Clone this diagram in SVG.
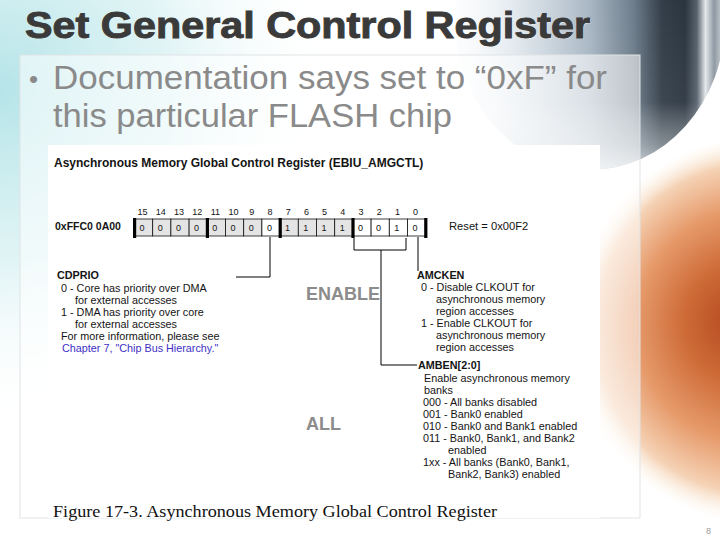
<svg xmlns="http://www.w3.org/2000/svg" width="720" height="540" viewBox="0 0 720 540">
<defs>
<radialGradient id="cyan" cx="0" cy="90" r="340" gradientUnits="userSpaceOnUse">
<stop offset="0" stop-color="#b5e4e8" stop-opacity="1"/>
<stop offset="0.5" stop-color="#d3eff1" stop-opacity="0.7"/>
<stop offset="1" stop-color="#ffffff" stop-opacity="0"/>
</radialGradient>
<linearGradient id="orbH" x1="430" y1="0" x2="720" y2="0" gradientUnits="userSpaceOnUse">
<stop offset="0" stop-color="#ffffff" stop-opacity="0"/>
<stop offset="0.3" stop-color="#d9e2e9" stop-opacity="0.8"/>
<stop offset="0.55" stop-color="#a9b7c4"/>
<stop offset="0.7" stop-color="#6f7e8c"/>
<stop offset="0.8" stop-color="#333e49"/>
<stop offset="0.88" stop-color="#2b3540"/>
<stop offset="0.92" stop-color="#56616c"/>
<stop offset="0.95" stop-color="#e3e7eb"/>
<stop offset="0.98" stop-color="#8d97a1"/>
<stop offset="1" stop-color="#b7bec5"/>
</linearGradient>
<linearGradient id="orbV" x1="0" y1="0" x2="0" y2="170" gradientUnits="userSpaceOnUse">
<stop offset="0" stop-color="#ffffff" stop-opacity="0"/>
<stop offset="0.6" stop-color="#ffffff" stop-opacity="0.05"/>
<stop offset="0.85" stop-color="#e8ecef" stop-opacity="0.45"/>
<stop offset="1" stop-color="#f4f6f7" stop-opacity="0.75"/>
</linearGradient>
<radialGradient id="orange" cx="765" cy="330" r="195" fx="735" fy="320" gradientUnits="userSpaceOnUse">
<stop offset="0" stop-color="#b44820"/>
<stop offset="0.3" stop-color="#cd6a36"/>
<stop offset="0.6" stop-color="#e69a6a"/>
<stop offset="0.85" stop-color="#f5d2b5"/>
<stop offset="1" stop-color="#fbf3e3" stop-opacity="0"/>
</radialGradient>
<style>
.t{font-family:"Liberation Sans",Arial,sans-serif;font-size:10.8px;fill:#141414}
.b{font-weight:bold}
.n{font-family:"Liberation Sans",Arial,sans-serif;font-size:9px;fill:#141414;text-anchor:middle}
.g{fill:#e4e4e4;stroke:#111;stroke-width:0.8}
.w{fill:#ffffff;stroke:#111;stroke-width:0.8}
.bar{fill:#000}
.big{font-family:"Liberation Sans",Arial,sans-serif;font-weight:bold;font-size:18px;fill:#8c8c8c}
.c{fill:none;stroke:#000;stroke-width:1}
</style>
</defs>
<g id="background">
<rect width="720" height="540" fill="#ffffff"/>
<rect width="720" height="540" fill="url(#cyan)"/>
<ellipse cx="590" cy="20" rx="135" ry="150" fill="url(#orbH)"/>
<ellipse cx="590" cy="20" rx="135" ry="150" fill="url(#orbV)"/>
<circle cx="765" cy="330" r="195" fill="url(#orange)"/>
<rect x="20" y="55" width="620" height="463" fill="#ffffff" fill-opacity="0.55" stroke="#dfe3e6" stroke-width="1"/>
<rect x="48" y="145" width="552" height="373" fill="#ffffff"/>
</g>
<g id="title">
<text x="26" y="39" font-family="'Liberation Sans',Arial,sans-serif" font-weight="bold" font-size="36" fill="#ffffff" opacity="0.5" textLength="565" lengthAdjust="spacingAndGlyphs">Set General Control Register</text>
<text x="25" y="38" font-family="'Liberation Sans',Arial,sans-serif" font-weight="bold" font-size="36" fill="#3a3a3a" stroke="#3a3a3a" stroke-width="0.9" textLength="565" lengthAdjust="spacingAndGlyphs">Set General Control Register</text>
</g>
<g id="bullet" font-family="'Liberation Sans',Arial,sans-serif" font-size="34" fill="#8a8a8a">
<text x="29" y="88" font-size="26">•</text>
<text x="53" y="89" textLength="554" lengthAdjust="spacingAndGlyphs">Documentation says set to “0xF” for</text>
<text x="53" y="127" textLength="399" lengthAdjust="spacingAndGlyphs">this particular FLASH chip</text>
</g>
<g id="register-header">
<text class="t b" x="54" y="167" style="font-size:12px">Asynchronous Memory Global Control Register (EBIU_AMGCTL)</text>
<text class="t b" x="55" y="230" style="font-size:10.5px">0xFFC0 0A00</text>
<text class="t" x="449" y="230" style="font-size:11.2px">Reset = 0x00F2</text>
</g>
<g id="register">
<rect class="g" x="134.5" y="219" width="18.2" height="17"/>
<rect class="g" x="152.7" y="219" width="18.2" height="17"/>
<rect class="g" x="170.9" y="219" width="18.2" height="17"/>
<rect class="g" x="189.1" y="219" width="18.2" height="17"/>
<rect class="g" x="207.3" y="219" width="18.2" height="17"/>
<rect class="g" x="225.5" y="219" width="18.2" height="17"/>
<rect class="g" x="243.7" y="219" width="18.2" height="17"/>
<rect class="w" x="261.9" y="219" width="18.2" height="17"/>
<rect class="g" x="280.1" y="219" width="18.2" height="17"/>
<rect class="g" x="298.3" y="219" width="18.2" height="17"/>
<rect class="g" x="316.5" y="219" width="18.2" height="17"/>
<rect class="g" x="334.7" y="219" width="18.2" height="17"/>
<rect class="w" x="352.9" y="219" width="18.2" height="17"/>
<rect class="w" x="371.1" y="219" width="18.2" height="17"/>
<rect class="w" x="389.3" y="219" width="18.2" height="17"/>
<rect class="w" x="407.5" y="219" width="18.2" height="17"/>
<rect class="bar" x="133" y="218" width="3.2" height="20"/>
<rect class="bar" x="205.8" y="218" width="3.2" height="20"/>
<rect class="bar" x="278.6" y="218" width="3.2" height="20"/>
<rect class="bar" x="351.4" y="218" width="3.2" height="20"/>
<rect class="bar" x="424.2" y="218" width="3.2" height="20"/>
<text class="n" x="142.6" y="215">15</text>
<text class="n" x="160.8" y="215">14</text>
<text class="n" x="179" y="215">13</text>
<text class="n" x="197.2" y="215">12</text>
<text class="n" x="215.4" y="215">11</text>
<text class="n" x="233.6" y="215">10</text>
<text class="n" x="251.8" y="215">9</text>
<text class="n" x="270" y="215">8</text>
<text class="n" x="288.2" y="215">7</text>
<text class="n" x="306.4" y="215">6</text>
<text class="n" x="324.6" y="215">5</text>
<text class="n" x="342.8" y="215">4</text>
<text class="n" x="361" y="215">3</text>
<text class="n" x="379.2" y="215">2</text>
<text class="n" x="397.4" y="215">1</text>
<text class="n" x="415.6" y="215">0</text>
<text class="n" x="142" y="231">0</text>
<text class="n" x="160.2" y="231">0</text>
<text class="n" x="178.4" y="231">0</text>
<text class="n" x="196.6" y="231">0</text>
<text class="n" x="214.8" y="231">0</text>
<text class="n" x="233" y="231">0</text>
<text class="n" x="251.2" y="231">0</text>
<text class="n" x="269.4" y="231">0</text>
<text class="n" x="287.6" y="231">1</text>
<text class="n" x="305.8" y="231">1</text>
<text class="n" x="324" y="231">1</text>
<text class="n" x="342.2" y="231">1</text>
<text class="n" x="360.4" y="231">0</text>
<text class="n" x="378.6" y="231">0</text>
<text class="n" x="396.8" y="231">1</text>
<text class="n" x="415" y="231">0</text>
</g>
<g id="connectors">
<path class="c" d="M270,237 V277 H236"/>
<path class="c" d="M354,238 V250 H406 V238"/>
<path class="c" d="M381,250 V365 H417"/>
<path class="c" d="M418,237 V271"/>
</g>
<g id="cdprio">
<text class="t b" x="57" y="279">CDPRIO</text>
<text class="t" x="61" y="292">0 - Core has priority over DMA</text>
<text class="t" x="75" y="304">for external accesses</text>
<text class="t" x="61" y="316">1 - DMA has priority over core</text>
<text class="t" x="75" y="328">for external accesses</text>
<text class="t" x="61" y="340">For more information, please see</text>
<text class="t" x="62" y="352" style="fill:#3d2fc4">Chapter 7, "Chip Bus Hierarchy."</text>
</g>
<g id="amcken">
<text class="t b" x="417" y="279">AMCKEN</text>
<text class="t" x="421" y="291">0 - Disable CLKOUT for</text>
<text class="t" x="436" y="303">asynchronous memory</text>
<text class="t" x="436" y="315">region accesses</text>
<text class="t" x="421" y="327">1 - Enable CLKOUT for</text>
<text class="t" x="436" y="339">asynchronous memory</text>
<text class="t" x="436" y="351">region accesses</text>
</g>
<g id="amben">
<text class="t b" x="418" y="369">AMBEN[2:0]</text>
<text class="t" x="424" y="382">Enable asynchronous memory</text>
<text class="t" x="424" y="394">banks</text>
<text class="t" x="423" y="406">000 - All banks disabled</text>
<text class="t" x="423" y="418">001 - Bank0 enabled</text>
<text class="t" x="423" y="430">010 - Bank0 and Bank1 enabled</text>
<text class="t" x="423" y="442">011 - Bank0, Bank1, and Bank2</text>
<text class="t" x="448" y="454">enabled</text>
<text class="t" x="423" y="466">1xx - All banks (Bank0, Bank1,</text>
<text class="t" x="448" y="478">Bank2, Bank3) enabled</text>
</g>
<g id="annotations">
<text class="big" x="306" y="300">ENABLE</text>
<text class="big" x="306" y="430">ALL</text>
</g>
<g id="caption">
<text x="53" y="517" font-family="'Liberation Serif','Times New Roman',serif" font-size="17" fill="#111" textLength="444" lengthAdjust="spacingAndGlyphs">Figure 17-3. Asynchronous Memory Global Control Register</text>
<text x="706" y="534" font-family="'Liberation Sans',Arial,sans-serif" font-size="9" fill="#9a9a9a">8</text>
</g>
</svg>
